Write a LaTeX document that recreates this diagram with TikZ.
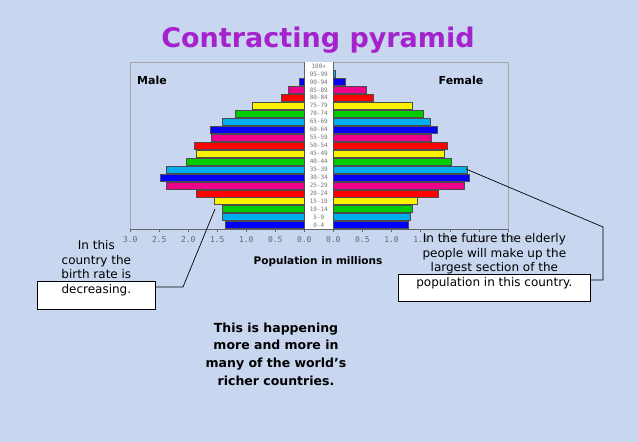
\documentclass[tikz,border=0pt]{standalone}
\usepackage{fontspec}
\setmainfont{DejaVu Sans}
\newfontfamily\monof{DejaVu Sans Mono}
\begin{document}
\begin{tikzpicture}[x=1pt,y=-1pt,
  bar/.style={draw=black!70,line width=0.4pt},
  tbox/.style={draw=black,fill=white,line width=0.7pt,align=center,inner sep=3pt},
  conn/.style={draw=black,line width=0.7pt},
  tick/.style={font=\monof\fontsize{8}{8}\selectfont,text=black!60},
  agel/.style={font=\monof\fontsize{6}{6}\selectfont,text=black!55,inner sep=0pt}]
\definecolor{bg}{RGB}{200,214,240}
\definecolor{ttl}{RGB}{165,35,205}
\useasboundingbox (0,0) rectangle (638,442);
\fill[bg] (0,0) rectangle (638,442);
\node[text=ttl,font=\bfseries\fontsize{27}{27}\selectfont] (title) at (318,40) {Contracting pyramid};
% chart frame
\draw[black!35,line width=0.4pt] (130,62) rectangle (508,229);
\fill[white] (304.3,62) rectangle (333.3,229);
\draw[black!60] (304.3,62) -- (304.3,229);
\draw[black!60] (333.3,62) -- (333.3,229);
\colorlet{c0}{blue}\colorlet{c1}{cyan}\colorlet{c2}{green!80!black}
\colorlet{c3}{yellow}\colorlet{c4}{red}\colorlet{c5}{magenta}
\foreach \m/\f/\lab [count=\i from 0] in {
 1.37/1.28/0-4,1.42/1.32/5-9,1.42/1.35/10-14,1.55/1.45/15-19,1.87/1.80/20-24,
 2.38/2.25/25-29,2.48/2.34/30-34,2.38/2.30/35-39,2.04/2.02/40-44,1.87/1.90/45-49,
 1.90/1.95/50-54,1.60/1.69/55-59,1.62/1.78/60-64,1.42/1.67/65-69,1.20/1.55/70-74,
 0.90/1.35/75-79,0.40/0.69/80-84,0.28/0.57/85-89,0.09/0.21/90-94,0.0/0.03/95-99,0.0/0.0/100+}{
  \pgfmathtruncatemacro{\ci}{mod(\i,6)}
  \pgfmathsetmacro{\yc}{225-7.95*\i}
  \ifdim\m pt>0pt
   \draw[bar,fill=c\ci] (304.3-58*\m,\yc-3.5) rectangle (304.3,\yc+3.5);
  \fi
  \ifdim\f pt>0pt
   \draw[bar,fill=c\ci] (333.3,\yc-3.5) rectangle (333.3+58.2*\f,\yc+3.5);
  \fi
  \node[agel] at (318.8,\yc) {\lab};
}
\draw[black!60] (130,229) -- (508,229);
\foreach \v in {0.0,0.5,1.0,1.5,2.0,2.5,3.0}{
  \draw[black!60] (304.3-58*\v,229) -- (304.3-58*\v,232);
  \draw[black!60] (333.3+58.2*\v,229) -- (333.3+58.2*\v,232);
  \node[tick] at (304.3-58*\v,240) {\v};
  \node[tick] at (333.3+58.2*\v,240) {\v};
}
\coordinate (m10) at (215,209);
\coordinate (f35) at (466,169);
\node[font=\bfseries\fontsize{11}{11}\selectfont] (male) at (152,80) {Male};
\node[font=\bfseries\fontsize{11}{11}\selectfont] (female) at (461,80) {Female};
\node[font=\bfseries\fontsize{10.5}{10.5}\selectfont] (pop) at (318,262) {Population in millions};
\node[tbox,font=\fontsize{12}{14.5}\selectfont,text height=9pt,minimum width=118pt,anchor=north west,text depth=13pt] (lb) at (37,281)
 {In this\\country the\\birth rate is\\decreasing.};
\node[tbox,font=\fontsize{12}{14.5}\selectfont,text height=9pt,minimum width=192pt,anchor=north west,text depth=12pt] (rb) at (398,274)
 {In the future the elderly\\people will make up the\\largest section of the\\population in this country.};
\node[font=\bfseries\fontsize{12.5}{17.7}\selectfont,align=center] (mid) at (276,354)
 {This is happening\\more and more in\\many of the world's\\richer countries.};
\coordinate (lk) at (183,287);
\coordinate (rk) at (603,227);
\draw[conn] (lb.east |- lk) -- (lk) -- (m10);
\draw[conn] (f35) -- (rk) -- (rk |- 0,280) -- (rb.east |- 0,280);
\end{tikzpicture}
\end{document}
